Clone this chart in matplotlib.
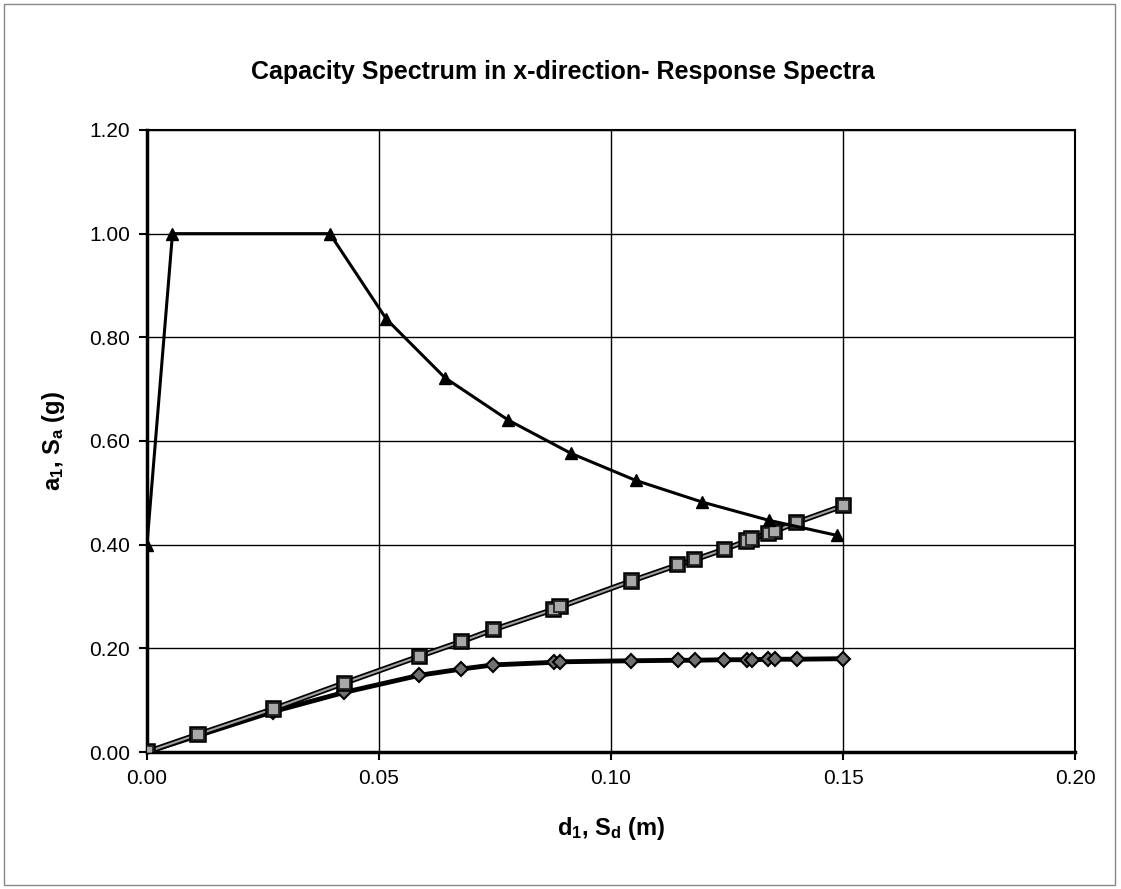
import matplotlib
matplotlib.use("Agg")
import matplotlib.pyplot as plt
import matplotlib.patheffects as pe
from matplotlib.patches import Rectangle

plt.rcParams['font.family'] = ['Liberation Sans', 'DejaVu Sans']
plt.rcParams['mathtext.fontset'] = 'custom'
plt.rcParams['mathtext.rm'] = 'Liberation Sans:bold'
plt.rcParams['mathtext.bf'] = 'Liberation Sans:bold'
plt.rcParams['mathtext.default'] = 'rm'

# response spectrum (triangles)
spec_sd = [0.0, 0.0055, 0.0394, 0.0516, 0.0642, 0.0779, 0.0914, 0.1053, 0.1197, 0.1340, 0.1486]
spec_sa = [0.40, 1.00, 1.00, 0.835, 0.722, 0.640, 0.576, 0.524, 0.482, 0.447, 0.418]

# linear line (squares)
lin_sd = [0.0, 0.011, 0.0272, 0.0425, 0.0588, 0.0677, 0.0746, 0.0876, 0.089, 0.1044,
          0.1144, 0.118, 0.1244, 0.1292, 0.1303, 0.1339, 0.1353, 0.140, 0.150]
lin_sa = [0.0, 0.034, 0.083, 0.133, 0.185, 0.213, 0.236, 0.275, 0.280, 0.330,
          0.361, 0.371, 0.391, 0.407, 0.411, 0.422, 0.426, 0.443, 0.475]

# capacity curve (diamonds)
cap_sd = [0.0, 0.0272, 0.0425, 0.0587, 0.0677, 0.0746, 0.0876, 0.089, 0.1044, 0.1144,
          0.118, 0.1244, 0.1292, 0.1303, 0.1339, 0.1353, 0.140, 0.150]
cap_sa = [0.0, 0.078, 0.115, 0.148, 0.160, 0.168, 0.173, 0.174, 0.176, 0.177,
          0.177, 0.178, 0.178, 0.178, 0.179, 0.179, 0.179, 0.180]

xticks = [0.0, 0.05, 0.10, 0.15, 0.20]
yticks = [0.0, 0.2, 0.4, 0.6, 0.8, 1.0, 1.2]

fig = plt.figure(figsize=(11.21, 8.89), dpi=100)
ax = fig.add_axes([0.1311, 0.1541, 0.828, 0.6997])

fig.patches.append(Rectangle((0.004, 0.004), 0.991, 0.991, transform=fig.transFigure,
                             fill=False, edgecolor='#888888', linewidth=1))

ax.plot(cap_sd, cap_sa, color='black', linewidth=3.5, marker='D', markersize=7,
        markerfacecolor='#707070', markeredgecolor='black', markeredgewidth=1.5, zorder=3)
ax.plot(lin_sd, lin_sa, color='#a0a0a0', linewidth=1.5, marker='s', markersize=8,
        markerfacecolor='#a8a8a8', markeredgecolor='#222222', markeredgewidth=1.3, zorder=4,
        path_effects=[pe.Stroke(linewidth=4, foreground='black'), pe.Normal()])
ax.plot(spec_sd, spec_sa, color='black', linewidth=2.2, marker='^', markersize=9,
        markerfacecolor='black', markeredgecolor='black', zorder=5)

ax.set_xlim(0, 0.20)
ax.set_ylim(0, 1.20)
ax.set_xticks(xticks)
ax.set_yticks(yticks)
ax.set_xticklabels([f"{v:.2f}" for v in xticks], fontsize=15)
ax.set_yticklabels([f"{v:.2f}" for v in yticks], fontsize=15)
ax.grid(True, color='black', linewidth=1)
ax.set_axisbelow(True)
ax.tick_params(direction='out', length=6, width=1.5, pad=6)

ax.spines['left'].set_linewidth(2.5)
ax.spines['bottom'].set_linewidth(2.5)
ax.spines['top'].set_linewidth(1.5)
ax.spines['right'].set_linewidth(1.5)

ax.set_xlabel(r'd$_1$, S$_d$ (m)', fontsize=17, fontweight='bold', labelpad=20)
ax.set_ylabel(r'a$_1$, S$_a$ (g)', fontsize=17, fontweight='bold', labelpad=16)
fig.text(0.502, 0.919, 'Capacity Spectrum in x-direction- Response Spectra',
         ha='center', va='center', fontsize=18, fontweight='bold')

fig.savefig('out.png', dpi=100)
